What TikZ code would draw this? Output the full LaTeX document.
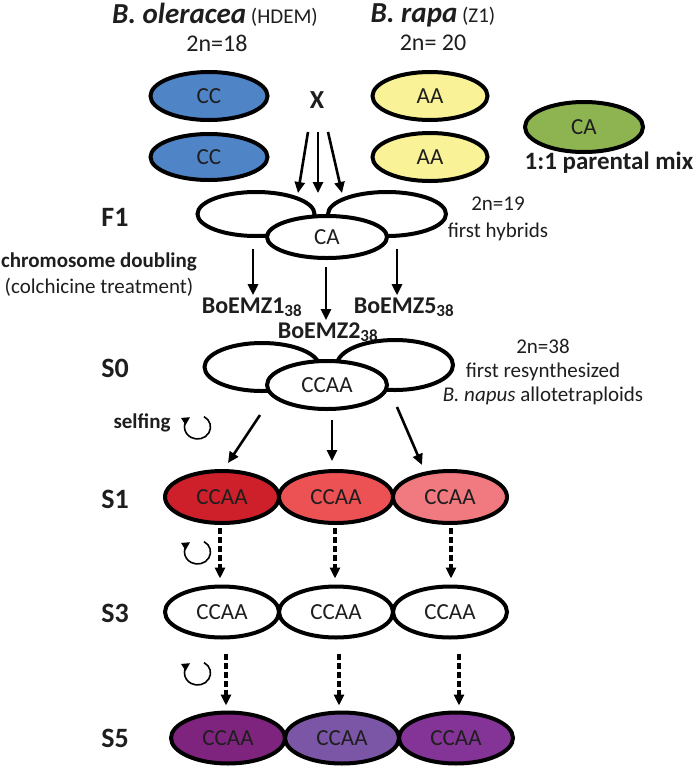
\documentclass[tikz,border=0pt]{standalone}
\usepackage{fontspec}
\setmainfont{Carlito}
\usetikzlibrary{shapes.geometric,arrows.meta,calc}

\definecolor{ccblue}{RGB}{79,132,198}
\definecolor{aayellow}{RGB}{250,242,150}
\definecolor{cagreen}{RGB}{142,180,82}
\definecolor{redA}{RGB}{205,32,42}
\definecolor{redB}{RGB}{236,82,84}
\definecolor{redC}{RGB}{241,122,128}
\definecolor{purpA}{RGB}{126,36,126}
\definecolor{purpB}{RGB}{124,86,166}
\definecolor{purpC}{RGB}{131,52,150}
\definecolor{txt}{RGB}{30,30,30}

\newcommand{\fs}[1]{\fontsize{#1}{1.15\dimexpr#1pt\relax}\selectfont}

\tikzset{
  geno/.style={ellipse, draw=black, line width=4pt, minimum width=114pt,
    minimum height=51pt, inner sep=0pt, font=\fs{23}, text=txt},
  gen/.style={font=\bfseries\fs{28}, text=txt},
  note/.style={font=\fs{21}, text=txt, align=center, inner sep=1pt},
  boe/.style={font=\bfseries\fs{24}, text=txt, anchor=base, inner sep=0pt},
  arr/.style={-{Triangle[length=11pt,width=10pt]}, line width=2.6pt},
  dasharr/.style={arr, line width=3.2pt, dash pattern=on 6pt off 3pt},
  selfarr/.style={-{Triangle[length=8pt,width=8pt]}, line width=1.6pt},
}

\begin{document}
\begin{tikzpicture}[x=1pt,y=-1pt]
\useasboundingbox (0,0) rectangle (693,766);

%%% parents
\node[note] (olename) at (215,15) {\textbf{\textit{\fs{29}B. oleracea}} {\fs{21}(HDEM)}};
\node[note, font=\fs{24}] (olechr) at (217,43) {2n=18};
\node[note] (rapname) at (433,15) {\textbf{\textit{\fs{29}B. rapa}} {\fs{21}(Z1)}};
\node[note, font=\fs{24}] (rapchr) at (433,43) {2n= 20};

\node[geno, fill=ccblue, minimum width=117pt, minimum height=48pt] (cc1) at (209,96) {CC};
\node[geno, fill=ccblue, minimum width=117pt, minimum height=46pt] (cc2) at (209,157) {CC};
\node[geno, fill=aayellow, minimum width=115pt, minimum height=48pt] (aa1) at (430,96) {AA};
\node[geno, fill=aayellow, minimum width=115pt, minimum height=48pt] (aa2) at (430,157) {AA};
\node[font=\bfseries\fs{26}, text=txt] (cross) at (317,100) {X};

\node[geno, fill=cagreen, minimum width=118pt, minimum height=50pt] (mix) at (584,127) {CA};
\node[note, font=\bfseries\fs{25}] (mixlab) at (609,163) {1:1 parental mix};

%%% F1
\node[gen] (f1lab) at (115,217) {F1};
\node[geno, fill=white, minimum width=117pt, minimum height=44pt] (f1l) at (256,214) {};
\node[geno, fill=white, minimum width=118pt, minimum height=44pt] (f1r) at (387,214) {};
\node[geno, fill=white, minimum width=120pt, minimum height=42pt] (f1c) at (327,237) {CA};
\node[note] (f1chr) at (498,219) {2n=19\\[3pt]first hybrids};

\draw[arr] ($(cross.south)+(-9,20)$) -- ($(f1c.north)+(-29,-21)$);
\draw[arr] ($(cross.south)+(1,20)$) -- ($(f1c.north)+(-9,-21)$);
\draw[arr] ($(cross.south)+(11,20)$) -- ($(f1c.north)+(15,-21)$);

%%% chromosome doubling
\node[note, font=\bfseries\fs{21}] (doubling) at (99,262) {chromosome doubling};
\node[note] (colch) at (99,287) {(colchicine treatment)};

\node[boe] (boe1) at (252,313) {BoEMZ1\textsubscript{\fs{17}38}};
\node[boe] (boe5) at (404,313) {BoEMZ5\textsubscript{\fs{17}38}};
\node[boe] (boe2) at (328,338) {BoEMZ2\textsubscript{\fs{17}38}};

\draw[arr] ($(f1l.south)+(-3,11)$) -- ($(boe1.north)+(1,-2)$);
\draw[arr] ($(f1c.south)+(-1,7)$) -- ($(boe2.north)+(-2,-2)$);
\draw[arr] ($(f1r.south)+(10,11)$) -- ($(boe5.north)+(-7,-2)$);

%%% S0
\node[gen] (s0lab) at (115,368) {S0};
\node[geno, fill=white, minimum width=115pt, minimum height=48pt] (s0l) at (262,367) {};
\node[geno, fill=white, minimum width=116pt, minimum height=50pt] (s0r) at (395,365) {};
\node[geno, fill=white, minimum width=120pt, minimum height=48pt] (s0c) at (327,385) {CCAA};
\node[note] (s0chr) at (543,372) {2n=38\\first resynthesized\\\textit{B. napus} allotetraploids};

\node[note, font=\bfseries\fs{21}] (selfing) at (142,423) {selfing};
\draw[selfarr] (198,427) ++(-60:12) arc[start angle=-60, end angle=235, x radius=13, y radius=12];

%%% S1
\node[gen] (s1lab) at (115,499) {S1};
\node[geno, fill=redA, minimum height=52pt] (s1a) at (222,497) {CCAA};
\node[geno, fill=redB, minimum height=52pt] (s1b) at (336,497) {CCAA};
\node[geno, fill=redC, minimum height=52pt] (s1c) at (450,497) {CCAA};

\draw[arr] ($(s0l.south)+(-2,22)$) -- ($(s1a.north)+(6,-6)$);
\draw[arr] ($(s0c.south)+(5,9)$) -- ($(s1b.north)+(-4,-8)$);
\draw[arr] ($(s0r.south)+(2,15)$) -- ($(s1c.north)+(-28,-4)$);

\draw[selfarr] (198,552) ++(-60:12) arc[start angle=-60, end angle=235, x radius=13, y radius=12];

%%% S3
\node[gen] (s3lab) at (115,613) {S3};
\node[geno, fill=white] (s3a) at (222,612) {CCAA};
\node[geno, fill=white] (s3b) at (336,612) {CCAA};
\node[geno, fill=white] (s3c) at (450,612) {CCAA};

\draw[dasharr] ($(s1a.south)+(-2,3)$) -- ($(s3a.north)+(-2,-6)$);
\draw[dasharr] ($(s1b.south)+(-1,3)$) -- ($(s3b.north)+(-1,-6)$);
\draw[dasharr] ($(s1c.south)+(1,3)$) -- ($(s3c.north)+(1,-6)$);

\draw[selfarr] (198,673) ++(-60:12) arc[start angle=-60, end angle=235, x radius=13, y radius=12];

%%% S5
\node[gen] (s5lab) at (115,738) {S5};
\node[geno, fill=purpA] (s5a) at (228,738) {CCAA};
\node[geno, fill=purpB] (s5b) at (342,738) {CCAA};
\node[geno, fill=purpC] (s5c) at (456,738) {CCAA};

\draw[dasharr] ($(s3a.south)+(4,14)$) -- ($(s5a.north)+(-2,-5)$);
\draw[dasharr] ($(s3b.south)+(3,14)$) -- ($(s5b.north)+(-3,-5)$);
\draw[dasharr] ($(s3c.south)+(9,14)$) -- ($(s5c.north)+(3,-5)$);

\end{tikzpicture}
\end{document}
